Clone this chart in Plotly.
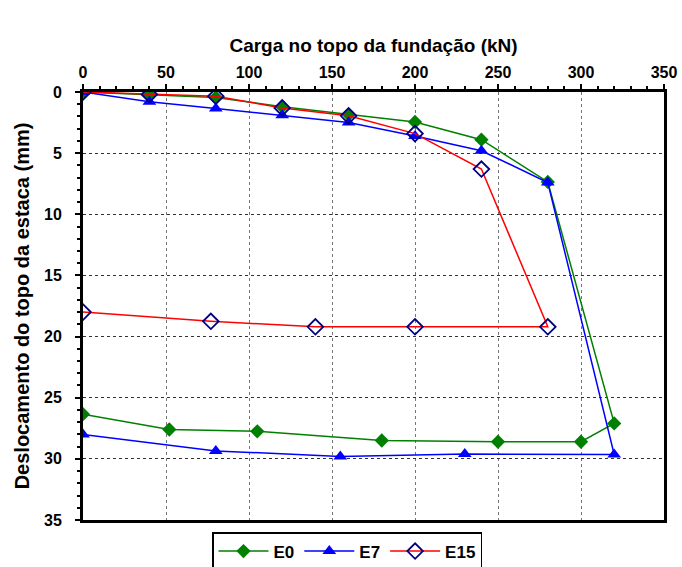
import plotly.graph_objects as go

# E0 (green diamonds)
e0_x = [0, 40, 80, 120, 160, 200, 240, 280, 320, 300, 250, 180, 105, 52, 0]
e0_y = [0, 0.2, 0.45, 1.2, 1.85, 2.45, 3.9, 7.35, 27.1, 28.6, 28.6, 28.5, 27.75, 27.6, 26.35]

# E7 (blue triangles)
e7_x = [0, 40, 80, 120, 160, 200, 240, 280, 320, 230, 155, 80, 0]
e7_y = [0, 0.8, 1.35, 1.9, 2.5, 3.6, 4.8, 7.4, 29.65, 29.6, 29.8, 29.35, 28.0]

# E15 (red line, navy open diamonds)
e15_x = [0, 40, 80, 120, 160, 200, 240, 280, 200, 140, 77, 0]
e15_y = [0, 0.2, 0.35, 1.3, 1.95, 3.4, 6.3, 19.2, 19.2, 19.2, 18.75, 18.0]

x_ticks = [0, 50, 100, 150, 200, 250, 300, 350]
y_ticks = [0, 5, 10, 15, 20, 25, 30, 35]

font_family = "Liberation Sans, Arial, sans-serif"

fig = go.Figure()
fig.add_trace(go.Scatter(
    x=e0_x, y=e0_y, name="E0", mode="lines+markers",
    line=dict(color="#008000", width=1.5),
    marker=dict(symbol="diamond", size=11, color="#008000"),
))
fig.add_trace(go.Scatter(
    x=e7_x, y=e7_y, name="E7", mode="lines+markers",
    line=dict(color="#0000FF", width=1.5),
    marker=dict(symbol="triangle-up", size=12, color="#0000FF"),
))
fig.add_trace(go.Scatter(
    x=e15_x, y=e15_y, name="E15", mode="lines+markers",
    line=dict(color="#FF0000", width=1.5),
    marker=dict(symbol="diamond-open", size=12, color="#000080",
                line=dict(width=1.8, color="#000080")),
))

fig.update_layout(
    width=682, height=567,
    margin=dict(l=83, r=18, t=92, b=47, autoexpand=False),
    plot_bgcolor="white", paper_bgcolor="white",
    font=dict(family=font_family, size=16, color="black"),
    showlegend=True,
    legend=dict(
        orientation="h", xref="container", x=347 / 682, xanchor="center",
        yref="container", y=1 - 532 / 567, yanchor="top",
        bordercolor="black", borderwidth=1.5,
        font=dict(family=font_family, size=17, color="black", weight="bold"),
        itemwidth=50,
    ),
    xaxis=dict(
        side="top", range=[0, 350], tickvals=x_ticks,
        ticktext=[f"<b>{v}</b>" for v in x_ticks],
        showline=True, linecolor="black", linewidth=3, mirror=True,
        ticks="outside", ticklen=5, tickwidth=2, tickcolor="black",
        showgrid=True, gridcolor="#777777", griddash="dot", gridwidth=1,
        zeroline=False,
        minor=dict(dtick=10, ticks="outside", ticklen=3, tickwidth=2,
                   tickcolor="black", showgrid=False),
        title=dict(text="<b>Carga no topo da fundação (kN)</b>",
                   font=dict(size=19), standoff=6),
        tickfont=dict(size=16),
    ),
    yaxis=dict(
        range=[35, 0], tickvals=y_ticks,
        ticktext=[f"<b>{v}</b>" for v in y_ticks],
        showline=True, linecolor="black", linewidth=3, mirror=True,
        ticks="outside", ticklen=5, tickwidth=2, tickcolor="black",
        ticklabelstandoff=10,
        showgrid=True, gridcolor="#333333", griddash="dot", gridwidth=1,
        zeroline=False,
        minor=dict(dtick=1, ticks="outside", ticklen=3, tickwidth=2,
                   tickcolor="black", showgrid=False),
        title=dict(text="<b>Deslocamento do topo da estaca (mm)</b>",
                   font=dict(size=20), standoff=10),
        tickfont=dict(size=16),
    ),
)

fig.write_html("out.html")
